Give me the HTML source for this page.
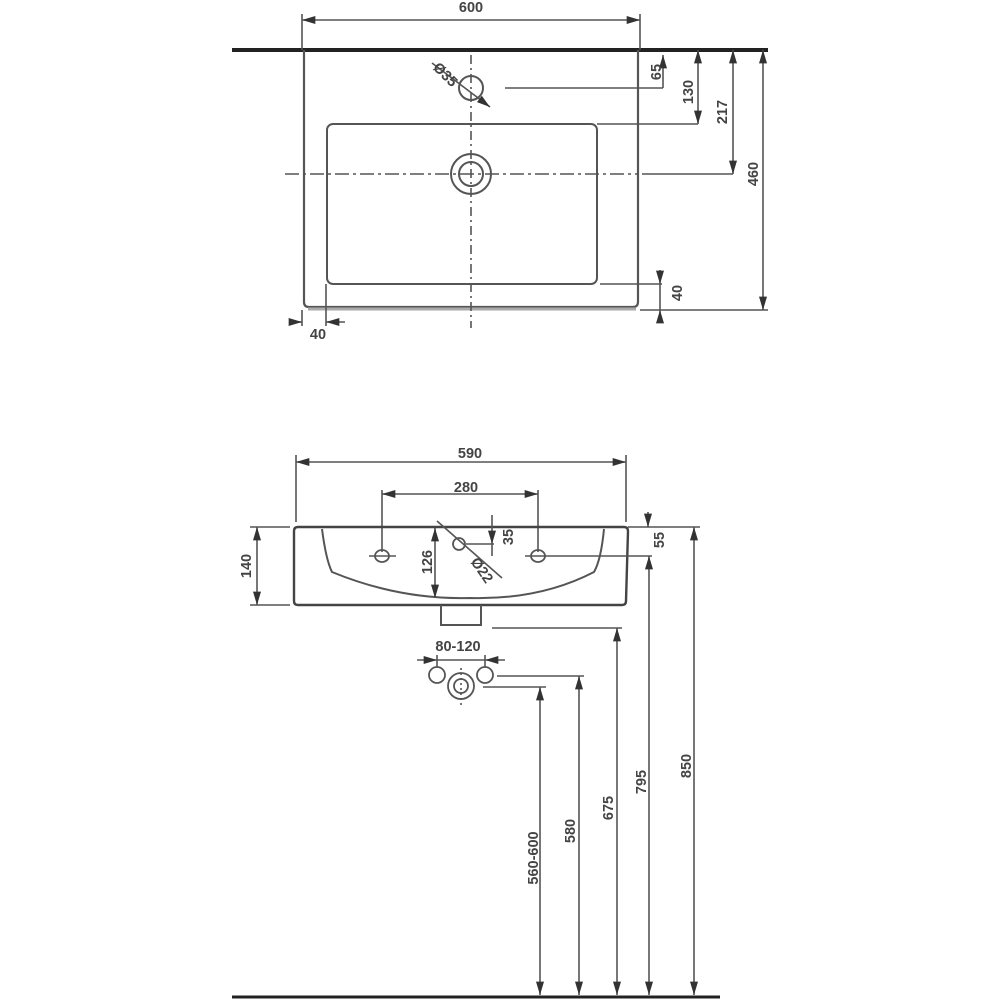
<!DOCTYPE html>
<html><head><style>body{margin:0;background:#fff}svg{display:block}</style></head><body>
<svg width="1001" height="1000" viewBox="0 0 1001 1000" xmlns="http://www.w3.org/2000/svg" font-family="Liberation Sans, sans-serif" font-weight="bold" font-size="14.5" fill="#444">
<defs><marker id="a" viewBox="0 0 10 6" refX="10" refY="3" markerWidth="9" markerHeight="5" orient="auto-start-reverse"><path d="M0 0L10 3L0 6z" fill="#333"/></marker></defs>
<g stroke="#555" stroke-width="1.6" fill="none">
<!-- top view -->
<line x1="232" y1="50" x2="768" y2="50" stroke="#222" stroke-width="4"/>
<line x1="302" y1="14" x2="302" y2="50"/><line x1="640" y1="14" x2="640" y2="50"/>
<line x1="302" y1="20" x2="640" y2="20" marker-start="url(#a)" marker-end="url(#a)"/>
<path d="M304 50V302Q304 307 309 307H633Q638 307 638 302V50" stroke="#555" stroke-width="2.2"/>
<line x1="308" y1="309" x2="636" y2="309" stroke="#aaa" stroke-width="3"/>
<rect x="327" y="124" width="270" height="160" rx="6" stroke="#555" stroke-width="2"/>
<circle cx="471" cy="174" r="20" stroke="#555" stroke-width="2"/><circle cx="471" cy="174" r="12" stroke="#555" stroke-width="2"/>
<circle cx="471" cy="88" r="12" stroke="#555" stroke-width="2"/>
<line x1="432" y1="63" x2="490" y2="107" marker-end="url(#a)"/>
<line x1="471" y1="55" x2="471" y2="328" stroke-dasharray="9 4 2 4"/>
<line x1="285" y1="174" x2="638" y2="174" stroke-dasharray="14 4 3 4"/>
<line x1="642" y1="174" x2="733" y2="174"/>
<line x1="505" y1="88" x2="663" y2="88"/>
<line x1="663" y1="55" x2="663" y2="88" marker-start="url(#a)"/>
<line x1="597" y1="124" x2="698" y2="124"/>
<line x1="698" y1="50" x2="698" y2="124" marker-start="url(#a)" marker-end="url(#a)"/>
<line x1="733" y1="50" x2="733" y2="174" marker-start="url(#a)" marker-end="url(#a)"/>
<line x1="640" y1="310" x2="768" y2="310"/>
<line x1="763" y1="50" x2="763" y2="310" marker-start="url(#a)" marker-end="url(#a)"/>
<line x1="600" y1="284" x2="662" y2="284"/>
<line x1="660" y1="270" x2="660" y2="284" marker-end="url(#a)"/><line x1="660" y1="318" x2="660" y2="310" marker-end="url(#a)"/><line x1="660" y1="284" x2="660" y2="310"/>
<line x1="326" y1="284" x2="326" y2="326"/><line x1="302" y1="310" x2="302" y2="326"/>
<line x1="294" y1="322" x2="302" y2="322" marker-end="url(#a)"/><line x1="345" y1="322" x2="326" y2="322" marker-end="url(#a)"/>
<!-- front view -->
<line x1="296" y1="455" x2="296" y2="522"/><line x1="626" y1="455" x2="626" y2="522"/>
<line x1="296" y1="462" x2="626" y2="462" marker-start="url(#a)" marker-end="url(#a)"/>
<line x1="382" y1="490" x2="382" y2="552"/><line x1="538" y1="490" x2="538" y2="552"/>
<line x1="382" y1="494" x2="538" y2="494" marker-start="url(#a)" marker-end="url(#a)"/>
<path d="M298 527H624Q628 527 628 531L626 601Q626 605 622 605H298Q294 605 294 601L294 531Q294 527 298 527Z" stroke="#444" stroke-width="2.4"/>
<path d="M322 529Q326 560 332 572Q400 600 470 598Q540 600 594 572Q601 560 604 529" stroke="#555" stroke-width="2"/>
<path d="M441 605V625H481V605" stroke="#555" stroke-width="2"/>
<ellipse cx="382" cy="556" rx="7" ry="6" stroke="#555" stroke-width="1.8"/><line x1="369" y1="556" x2="396" y2="556"/>
<ellipse cx="538" cy="556" rx="7" ry="6" stroke="#555" stroke-width="1.8"/><line x1="525" y1="556" x2="652" y2="556"/>
<circle cx="459" cy="544" r="6" stroke="#555" stroke-width="1.8"/>
<line x1="437" y1="521" x2="502" y2="578"/>
<line x1="466" y1="544" x2="494" y2="544"/>
<line x1="492" y1="515" x2="492" y2="544" marker-end="url(#a)"/><line x1="492" y1="544" x2="492" y2="556"/>
<line x1="435" y1="528" x2="435" y2="598" marker-start="url(#a)" marker-end="url(#a)"/>
<line x1="250" y1="527" x2="290" y2="527"/><line x1="250" y1="605" x2="290" y2="605"/>
<line x1="257" y1="527" x2="257" y2="605" marker-start="url(#a)" marker-end="url(#a)"/>
<line x1="628" y1="527" x2="700" y2="527"/>
<line x1="648" y1="512" x2="648" y2="527" marker-end="url(#a)"/>
<line x1="649" y1="556" x2="649" y2="995" marker-start="url(#a)" marker-end="url(#a)"/>
<line x1="694" y1="527" x2="694" y2="995" marker-start="url(#a)" marker-end="url(#a)"/>
<line x1="492" y1="628" x2="622" y2="628"/>
<line x1="617" y1="628" x2="617" y2="995" marker-start="url(#a)" marker-end="url(#a)"/>
<line x1="497" y1="676" x2="584" y2="676"/>
<line x1="579" y1="676" x2="579" y2="995" marker-start="url(#a)" marker-end="url(#a)"/>
<line x1="483" y1="687" x2="546" y2="687"/>
<line x1="540" y1="687" x2="540" y2="995" marker-start="url(#a)" marker-end="url(#a)"/>
<line x1="232" y1="997" x2="720" y2="997" stroke="#222" stroke-width="3"/>
<line x1="417" y1="660" x2="437" y2="660" marker-end="url(#a)"/><line x1="505" y1="660" x2="485" y2="660" marker-end="url(#a)"/><line x1="437" y1="660" x2="485" y2="660"/>
<line x1="437" y1="655" x2="437" y2="667"/><line x1="485" y1="655" x2="485" y2="667"/>
<circle cx="437" cy="675" r="8" stroke="#555" stroke-width="1.8"/><circle cx="485" cy="675" r="8" stroke="#555" stroke-width="1.8"/>
<circle cx="461" cy="686" r="13" stroke="#555" stroke-width="1.8"/><circle cx="461" cy="686" r="7" stroke="#555" stroke-width="1.8"/>
<line x1="461" y1="668" x2="461" y2="706" stroke-dasharray="2 3"/>
</g>
<g text-anchor="middle">
<text x="471" y="12">600</text>
<text x="318" y="339">40</text>
<text transform="translate(442,78) rotate(45)">Ø35</text>
<text transform="translate(661,72) rotate(-90)">65</text>
<text transform="translate(693,92) rotate(-90)">130</text>
<text transform="translate(727,112) rotate(-90)">217</text>
<text transform="translate(758,174) rotate(-90)">460</text>
<text transform="translate(682,293) rotate(-90)">40</text>
<text x="470" y="458">590</text>
<text x="466" y="492">280</text>
<text transform="translate(513,537) rotate(-90)">35</text>
<text transform="translate(432,562) rotate(-90)">126</text>
<text transform="translate(478,573) rotate(55)">Ø22</text>
<text transform="translate(251,566) rotate(-90)">140</text>
<text transform="translate(664,540) rotate(-90)">55</text>
<text x="458" y="651">80-120</text>
<text transform="translate(538,858) rotate(-90)">560-600</text>
<text transform="translate(575,831) rotate(-90)">580</text>
<text transform="translate(613,808) rotate(-90)">675</text>
<text transform="translate(646,782) rotate(-90)">795</text>
<text transform="translate(691,766) rotate(-90)">850</text>
</g>
</svg>
</body></html>
